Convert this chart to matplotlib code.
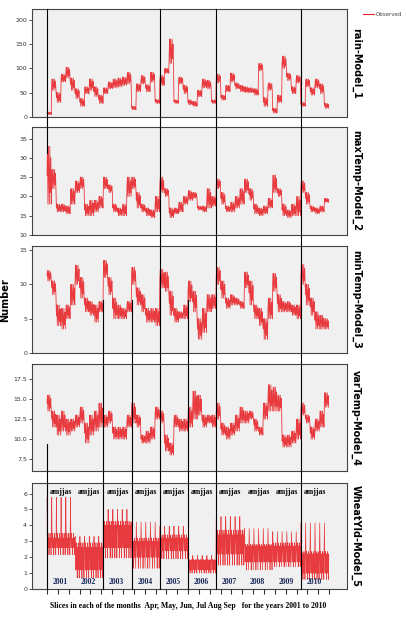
import numpy as np
import matplotlib.pyplot as plt
from matplotlib.lines import Line2D

# ---- data (per month Apr..Sep, 2001..2010: 60 months) ----
years = [str(y) for y in range(2001, 2011)]
month_tag = 'amjjas'

rain_lo = [5, 55, 30, 72, 80, 55, 38, 22, 48, 55, 42, 28,
           48, 58, 60, 62, 65, 68, 15, 52, 68, 52, 72, 28,
           65, 90, 110, 28, 68, 48, 25, 22, 42, 60, 58, 28,
           70, 35, 52, 72, 58, 52, 50, 50, 45, 95, 22, 55,
           8, 30, 100, 75, 48, 70, 22, 62, 45, 60, 48, 18]
rain_hi = [10, 78, 50, 88, 102, 80, 58, 38, 62, 78, 62, 45,
           60, 72, 78, 80, 82, 92, 22, 68, 85, 66, 92, 36,
           85, 100, 160, 35, 82, 65, 35, 32, 55, 78, 75, 35,
           88, 45, 65, 90, 70, 65, 62, 60, 58, 110, 40, 70,
           18, 45, 125, 90, 62, 85, 30, 78, 60, 78, 68, 28]

maxt_lo = [18, 22, 16, 16, 15.5, 18, 21, 22, 15, 15, 16, 17,
           22, 21, 16, 15, 15, 20, 22, 17, 16, 15, 14.5, 16,
           21, 20, 14.5, 15.5, 16, 18, 19, 19.5, 16.5, 16, 17, 17.5,
           22, 18, 16, 16, 17, 18, 21, 19, 15.5, 15, 15.5, 17,
           21, 20, 15, 14.5, 15, 15, 21, 18, 16, 15.5, 16, 18.5]
maxt_hi = [33, 27, 18, 18, 17.5, 22, 24, 25, 18, 19, 19, 20,
           25, 23, 18, 17, 18, 25, 25, 21, 18, 17, 16.5, 20,
           25, 22, 17, 17, 18.5, 20, 21.5, 21, 17.5, 17.5, 22, 20,
           24.5, 21, 17.5, 18.5, 20, 22, 24.5, 22, 18, 17, 17.5, 19.5,
           25.5, 22, 18, 16.5, 18, 20, 24, 21, 17.5, 17, 17.5, 19.5]

mint_lo = [10.5, 8.5, 4, 3.5, 5, 7, 10, 8, 6, 5.5, 4.5, 6,
           11, 8.5, 5, 5, 5, 6, 10, 7, 6, 4.5, 4.5, 4,
           9.5, 9, 5.5, 4.5, 5, 5, 7.5, 6, 2, 3, 6, 6.5,
           10, 8, 6.5, 7, 7, 6.5, 9.5, 7, 5, 4, 2, 5,
           9, 6, 6, 6, 5.5, 5, 10, 7, 5.5, 3.5, 3.5, 3.5]
mint_hi = [12, 10.5, 7, 6.5, 7, 10, 12.8, 11, 8, 7.5, 7, 7.5,
           13.5, 11, 8, 7, 6.5, 7.5, 12.5, 9.5, 8.5, 6.5, 6.5, 6.5,
           12.2, 11.8, 9, 6.5, 6, 7, 10.5, 9, 5, 6.5, 8.5, 8.5,
           12.5, 10.5, 8, 8.5, 8, 7.5, 11.8, 10.5, 7, 6.5, 5, 8,
           11.6, 8.5, 7.5, 7.5, 7, 7, 12.9, 10, 8, 6, 5.5, 5]

vart_lo = [13.5, 11.5, 10.5, 11, 10.5, 11, 11.5, 12, 9.5, 10.5, 11, 11.5,
           11.5, 12, 10, 10, 10, 11.5, 12, 11.5, 9.5, 9.5, 10, 12.5,
           12, 8.5, 8, 11.5, 11, 11, 11.5, 12.5, 13, 11.5, 12, 11.5,
           12.5, 10.5, 10, 10.5, 11, 12, 12, 12.5, 11, 10.5, 12.5, 13.5,
           13.5, 13.5, 9, 9, 9.5, 10, 13, 12, 10, 11, 11.5, 14]
vart_hi = [15.5, 13.5, 13, 13.5, 12.5, 12.5, 13, 14, 12, 13, 13.5, 14.5,
           13, 13.5, 11.5, 11.5, 11.5, 13, 14.5, 13, 10.5, 11, 11.5, 14,
           13.5, 10.5, 9.5, 13, 12.5, 12.5, 14, 16, 15.5, 13, 13, 13,
           14.5, 12, 11.5, 12, 13, 14, 13.5, 13.5, 12.5, 11.5, 14.5, 16.8,
           16.5, 15.5, 10.5, 10.5, 11, 12.5, 14.5, 13, 11.5, 12.5, 13.5, 15.8]

# WheatYld: one value per year (outer band, dense core, monthly spike)
wheat_lo = [2.15, 0.7, 1.95, 1.3, 1.9, 1.0, 1.5, 1.2, 1.4, 0.6]
wheat_hi = [3.5, 2.9, 4.25, 3.2, 3.4, 1.85, 3.7, 2.8, 2.9, 2.35]
wheat_core_lo = [2.6, 1.2, 2.6, 2.0, 2.4, 1.2, 2.2, 1.7, 1.7, 1.0]
wheat_core_hi = [3.2, 2.6, 4.0, 3.0, 3.2, 1.8, 3.4, 2.7, 2.7, 2.2]
wheat_spike = [5.75, 3.3, 5.0, 4.2, 3.95, 2.1, 4.55, 3.8, 3.6, 4.15]

panel_names = ['rain-Model_1', 'maxTemp-Model_2', 'minTemp-Model_3',
               'varTemp-Model_4', 'WheatYld-Model_5']

RED = '#e8272c'
W, H = 407, 621


def month_band(lo, hi):
    # zig-zag between the read low/high level of every month
    pattern = [0.5, 1.0, 0.0, 1.0, 0.5, 0.0, 1.0, 0.2, 0.8, 0.0]
    xs, ys = [], []
    for m, (a, b) in enumerate(zip(lo, hi)):
        for i, p in enumerate(pattern):
            xs.append(m + i / len(pattern))
            ys.append(a + p * (b - a))
    return np.array(xs), np.array(ys)


def wheat_band(lo, hi, clo, chi, spike):
    xs, ys = [], []
    for y in range(len(lo)):
        vals = [spike[y], chi[y], clo[y], hi[y], clo[y], chi[y], lo[y],
                chi[y], clo[y], hi[y], clo[y], chi[y], lo[y], chi[y]]
        for k in range(6):
            m = y * 6 + k
            for i, v in enumerate(vals):
                xs.append(m + i / len(vals))
                ys.append(v)
    return np.array(xs), np.array(ys)


series = [month_band(rain_lo, rain_hi), month_band(maxt_lo, maxt_hi),
          month_band(mint_lo, mint_hi), month_band(vart_lo, vart_hi),
          wheat_band(wheat_lo, wheat_hi, wheat_core_lo, wheat_core_hi, wheat_spike)]

ylims = [(0, 222), (10, 38), (0, 15.6), (6.0, 19.4), (0, 6.66)]
yticks = [[0, 50, 100, 150, 200], [10, 15, 20, 25, 30, 35], [0, 5, 10, 15],
          [7.5, 10.0, 12.5, 15.0, 17.5], [0, 1, 2, 3, 4, 5, 6]]
ytick_fmt = ['{:.0f}', '{:.0f}', '{:.0f}', '{:.1f}', '{:.0f}']
# panel top/bottom in pixels
rows = [(9, 117), (127, 235), (246, 353), (364, 471), (483, 589)]
left_px, right_px = 32, 347
xlim = (-3.19, 63.8)

fig = plt.figure(figsize=(W / 100, H / 100), dpi=100)

axes = []
for i, (top, bot) in enumerate(rows):
    ax = fig.add_axes([left_px / W, 1 - bot / H, (right_px - left_px) / W, (bot - top) / H])
    ax.set_facecolor('#f0f0f0')
    x, y = series[i]
    ax.plot(x, y, color=RED, lw=0.6 if i < 4 else 0.5, alpha=0.9)
    ax.set_xlim(*xlim)
    ax.set_ylim(*ylims[i])
    ax.set_yticks(yticks[i])
    ax.set_yticklabels([ytick_fmt[i].format(v) for v in yticks[i]])
    ax.tick_params(axis='y', length=2.5, width=0.6, pad=1, labelsize=4.5,
                   colors='#333333')
    for s in ax.spines.values():
        s.set_color('#444444')
        s.set_linewidth(0.8)
    ax.text(1.012, 0.5, panel_names[i], transform=ax.transAxes, rotation=-90,
            ha='left', va='center', fontsize=7, fontweight='bold')
    axes.append(ax)

for ax in axes[:-1]:
    ax.set_xticks([])

# bottom panel: unlabeled slice ticks, month letters and years
axb = axes[-1]
axb.set_xticks(np.linspace(0, 60, 27))
axb.set_xticklabels([])
axb.tick_params(axis='x', length=3.5, width=0.8, colors='#333333')
for k, yr in enumerate(years):
    axb.text(6 * k + 3, 6.1, month_tag, ha='center', va='center',
             fontsize=5.5, fontweight='bold', family='Liberation Serif')
    axb.text(6 * k + 2.8, 0.42, yr, ha='center', va='center', fontsize=5.5,
             fontweight='bold', family='Liberation Serif', color='#1c2a5a')

# reference lines at year starts, running through the panels
ov = fig.add_axes([left_px / W, 0, (right_px - left_px) / W, 1])
ov.set_xlim(*xlim)
ov.set_ylim(H, 0)
ov.axis('off')
ref_lines = [(0, 9, 153), (0, 444, 589), (24, 9, 589), (36, 9, 589), (54, 9, 589),
             (12, 300, 589), (18, 300, 589), (30, 300, 589)]
for xm, y0, y1 in ref_lines:
    ov.plot([xm, xm], [y0, y1], color='black', lw=0.8)

fig.text(5 / W, 1 - 300 / H, 'Number', rotation=90, ha='center', va='center',
         fontsize=7, fontweight='bold')
fig.text(188 / W, 1 - 606 / H,
         'Slices in each of the months  Apr, May, Jun, Jul Aug Sep   for the years 2001 to 2010',
         ha='center', va='center', fontsize=5.6, fontweight='bold',
         family='Liberation Serif')

fig.legend(handles=[Line2D([], [], color=RED, lw=0.8)], labels=['Observed'],
           loc='upper left', bbox_to_anchor=(362 / W, 1 - 11 / H), frameon=False,
           fontsize=4, handlelength=2.0, handletextpad=0.3, labelcolor='#444444',
           borderaxespad=0, borderpad=0.2)

fig.savefig('out.png', dpi=100)
